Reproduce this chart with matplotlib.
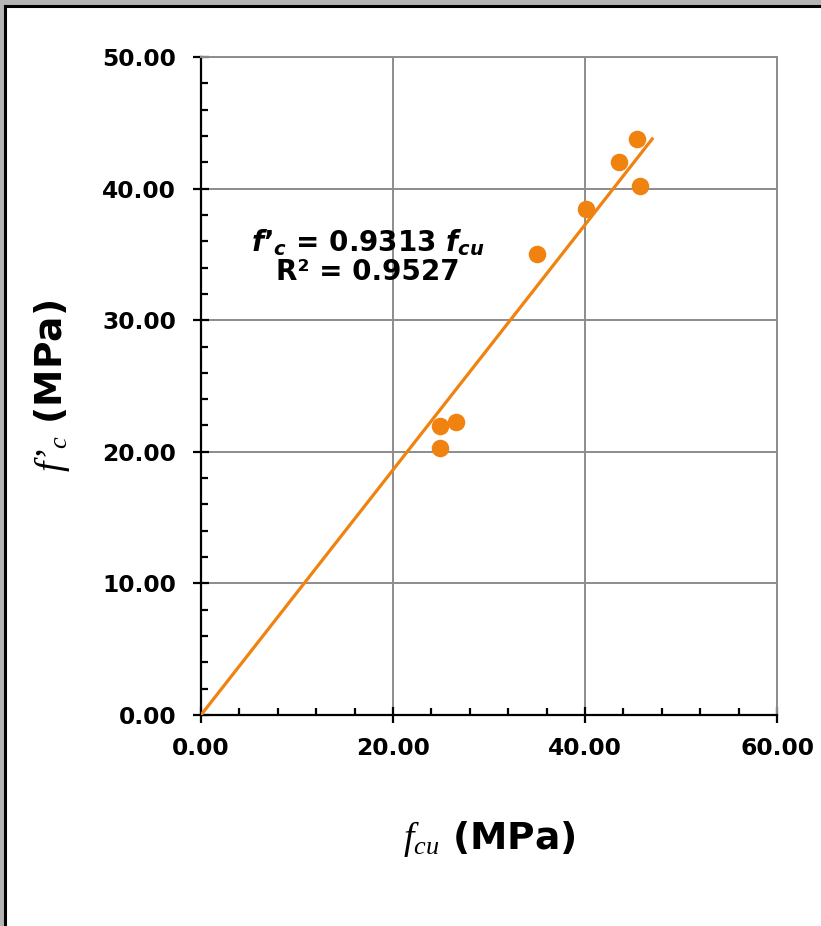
import numpy as np
import matplotlib.pyplot as plt
from matplotlib.patches import Rectangle
from matplotlib.lines import Line2D
from matplotlib.ticker import MultipleLocator, FormatStrFormatter

plt.rcParams['mathtext.fontset'] = 'custom'
plt.rcParams['mathtext.it'] = 'DejaVu Sans:italic:bold'
plt.rcParams['mathtext.bf'] = 'DejaVu Sans:bold'
plt.rcParams['mathtext.rm'] = 'DejaVu Sans:bold'
plt.rcParams['mathtext.sf'] = 'Liberation Serif:italic'

# cube strength vs cylinder strength (MPa)
f_cu = [45.4, 43.5, 45.7, 40.1, 35.0, 24.9, 26.6, 24.9]
f_c = [43.8, 42.0, 40.2, 38.45, 35.0, 21.95, 22.3, 20.3]
slope = 0.9313
r2 = 0.9527
fit_x = [0.0, 47.0]

orange = '#F0820F'

fig = plt.figure(figsize=(8.21, 9.26), dpi=100)
# window-like frame around the chart
fig.patches.append(Rectangle((0, 0), 1, 1, transform=fig.transFigure,
                             facecolor='#b4b4b4', edgecolor='none', zorder=-3))
fig.patches.append(Rectangle((6 / 821, 0), 1, 1 - 7 / 926, transform=fig.transFigure,
                             facecolor='white', edgecolor='none', zorder=-2))
fig.lines.append(Line2D([4.5 / 821, 4.5 / 821], [0, 1 - 5.5 / 926], transform=fig.transFigure,
                        color='black', lw=2.2))
fig.lines.append(Line2D([4.5 / 821, 1], [1 - 6 / 926, 1 - 6 / 926], transform=fig.transFigure,
                        color='black', lw=2.2))

ax = fig.add_axes([201 / 821, 1 - 715 / 926, 576 / 821, 658 / 926])

ax.scatter(f_cu, f_c, s=135, color=orange, zorder=4, clip_on=False)
ax.plot(fit_x, [slope * v for v in fit_x], color=orange, lw=2.3, zorder=3)

ax.set_xlim(0, 60)
ax.set_ylim(0, 50)
ax.xaxis.set_major_locator(MultipleLocator(20))
ax.xaxis.set_minor_locator(MultipleLocator(4))
ax.yaxis.set_major_locator(MultipleLocator(10))
ax.yaxis.set_minor_locator(MultipleLocator(2))
ax.xaxis.set_major_formatter(FormatStrFormatter('%.2f'))
ax.yaxis.set_major_formatter(FormatStrFormatter('%.2f'))

ax.grid(True, which='major', color='#8c8c8c', lw=1.4)
ax.set_axisbelow(True)
for side in ['top', 'right']:
    ax.spines[side].set_color('#8c8c8c')
    ax.spines[side].set_linewidth(1.4)
for side in ['left', 'bottom']:
    ax.spines[side].set_linewidth(1.6)

ax.tick_params(which='major', direction='inout', length=12, width=1.6)
ax.tick_params(which='minor', direction='in', length=5, width=1.6)
ax.tick_params(axis='x', pad=10)
ax.tick_params(axis='y', pad=12)
for lab in ax.get_xticklabels() + ax.get_yticklabels():
    lab.set_fontsize(16.8)
    lab.set_fontweight('bold')

ax.set_xlabel("$\\mathsf{f_{cu}}$ (MPa)", fontsize=27, fontweight='bold', labelpad=42)
ax.set_ylabel("$\\mathsf{f\u2019_{c}}$ (MPa)", fontsize=27, fontweight='bold', labelpad=22)

ax.text(17.4, 35.9, "$f\u2019_c$ = 0.9313 $f_{cu}$", fontsize=20, fontweight='bold',
        ha='center', va='center')
ax.text(17.4, 33.7, "R² = %.4f" % r2, fontsize=20, fontweight='bold',
        ha='center', va='center')

fig.savefig('out.png', dpi=100)
